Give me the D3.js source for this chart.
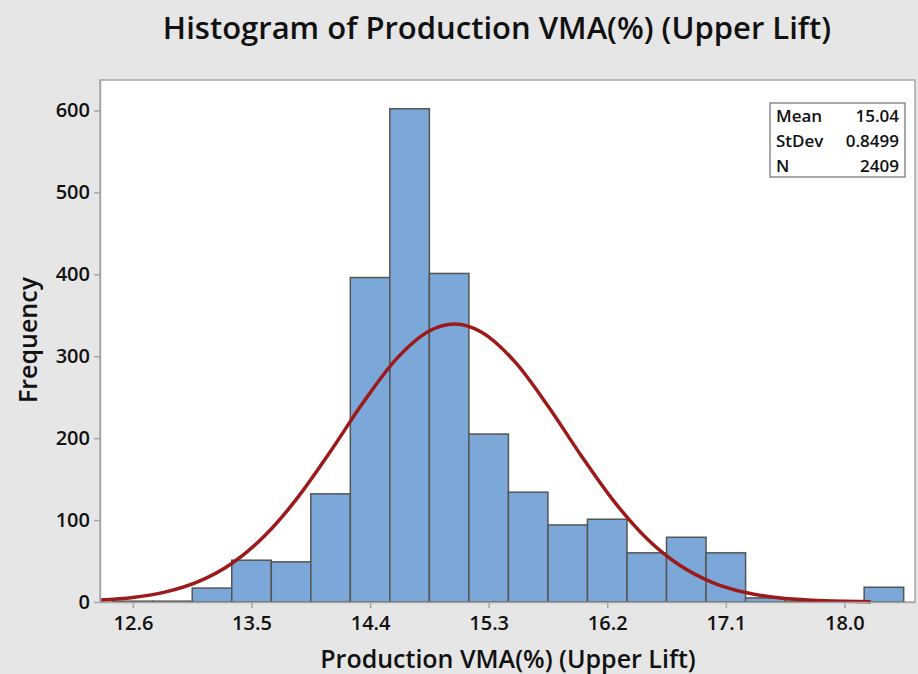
<!DOCTYPE html>
<html>
<head>
<meta charset="utf-8">
<script src="https://cdn.jsdelivr.net/npm/d3@7"></script>
<style>
  body { margin: 0; background: #e6e6e6; }
  text { font-family: "Open Sans", "Noto Sans", sans-serif; fill: #111; }
</style>
</head>
<body>
<script>
// Chart data
var binCenters = [12.6, 12.9, 13.2, 13.5, 13.8, 14.1, 14.4, 14.7, 15.0, 15.3, 15.6, 15.9, 16.2, 16.5, 16.8, 17.1, 17.4, 17.7, 18.3];
var binCounts  = [1, 1, 17, 51, 49, 132, 396, 602, 401, 205, 134, 94, 101, 60, 79, 60, 5, 1, 18];
var binWidth = 0.3;

// fitted normal curve
var curveX = [12.35, 12.6, 12.85, 13.1, 13.35, 13.6, 13.85, 14.1, 14.35, 14.6, 14.85, 15.04, 15.25, 15.5, 15.75, 16.0, 16.25, 16.5, 16.75, 17.0, 17.25, 17.5, 17.75, 18.0, 18.2];
var curveY = [2.3, 5.5, 12.3, 25.1, 47.0, 80.8, 127.3, 184.0, 244.0, 296.7, 330.8, 339.2, 329.0, 293.0, 239.3, 179.2, 123.1, 77.5, 44.8, 23.7, 11.5, 5.1, 2.1, 0.8, 0.3];

var xTicks = [12.6, 13.5, 14.4, 15.3, 16.2, 17.1, 18.0];
var yTicks = [0, 100, 200, 300, 400, 500, 600];

var statLabels = ["Mean", "StDev", "N"];
var statValues = ["15.04", "0.8499", "2409"];

// Chart params
var svgWidth = 918;
var svgHeight = 674;
var plot = { left: 100, top: 80, right: 915, bottom: 602 };

var svg = d3.select("body")
  .append("svg")
  .attr("width", svgWidth)
  .attr("height", svgHeight);

svg.append("rect")
  .attr("width", svgWidth)
  .attr("height", svgHeight)
  .attr("fill", "#e6e6e6");

var xScale = d3.scaleLinear()
  .domain([12.35, 18.536])
  .range([plot.left, plot.right]);

var yScale = d3.scaleLinear()
  .domain([0, 637.1])
  .range([plot.bottom, plot.top]);

// white plot area
svg.append("rect")
  .attr("x", plot.left)
  .attr("y", plot.top)
  .attr("width", plot.right - plot.left)
  .attr("height", plot.bottom - plot.top)
  .attr("fill", "#fff")
  .attr("stroke", "#a6a6a6")
  .attr("stroke-width", 1.5);

// bars
svg.append("g")
  .selectAll("rect")
  .data(binCenters)
  .enter()
  .append("rect")
  .attr("x", d => xScale(d - binWidth / 2))
  .attr("width", d => xScale(d + binWidth / 2) - xScale(d - binWidth / 2))
  .attr("y", (d, i) => yScale(binCounts[i]))
  .attr("height", (d, i) => yScale(0) - yScale(binCounts[i]))
  .attr("fill", "#7ba7d9")
  .attr("stroke", "#555")
  .attr("stroke-width", 1.5);

// normal curve
var line = d3.line()
  .x(d => xScale(d[0]))
  .y(d => yScale(d[1]))
  .curve(d3.curveMonotoneX);

svg.append("path")
  .attr("d", line(curveX.map((x, i) => [x, curveY[i]])))
  .attr("fill", "none")
  .attr("stroke", "#9c1a1a")
  .attr("stroke-width", 3.5);

// axes
var bottomAxis = d3.axisBottom(xScale)
  .tickValues(xTicks)
  .tickFormat(d3.format(".1f"))
  .tickSizeInner(6)
  .tickSizeOuter(0)
  .tickPadding(8);

var leftAxis = d3.axisLeft(yScale)
  .tickValues(yTicks)
  .tickSizeInner(6)
  .tickSizeOuter(0)
  .tickPadding(4);

var xAxisG = svg.append("g")
  .attr("transform", `translate(0, ${plot.bottom})`)
  .call(bottomAxis);

var yAxisG = svg.append("g")
  .attr("transform", `translate(${plot.left}, 0)`)
  .call(leftAxis);

[xAxisG, yAxisG].forEach(function(g) {
  g.select(".domain").attr("stroke", "#a6a6a6").attr("stroke-width", 1.5);
  g.selectAll(".tick line").attr("stroke", "#a6a6a6").attr("stroke-width", 1.5);
  g.selectAll(".tick text")
    .style("font-family", "'Open Sans', sans-serif")
    .style("font-size", "20px")
    .style("font-weight", 600)
    .attr("fill", "#111");
});

// title and axis labels
svg.append("text")
  .attr("x", 497)
  .attr("y", 39)
  .attr("text-anchor", "middle")
  .style("font-size", "31px")
  .style("font-weight", 600)
  .text("Histogram of Production VMA(%) (Upper Lift)");

svg.append("text")
  .attr("x", 508)
  .attr("y", 668)
  .attr("text-anchor", "middle")
  .style("font-size", "25px")
  .style("font-weight", 600)
  .text("Production VMA(%) (Upper Lift)");

svg.append("text")
  .attr("transform", "translate(37, 340) rotate(-90)")
  .attr("text-anchor", "middle")
  .style("font-size", "25px")
  .style("font-weight", 600)
  .text("Frequency");

// stats box
var box = { x: 770, y: 103, w: 135, h: 74 };
svg.append("rect")
  .attr("x", box.x)
  .attr("y", box.y)
  .attr("width", box.w)
  .attr("height", box.h)
  .attr("fill", "#fff")
  .attr("stroke", "#8c8c8c")
  .attr("stroke-width", 1.5);

statLabels.forEach(function(label, i) {
  svg.append("text")
    .attr("x", box.x + 6)
    .attr("y", box.y + 19 + i * 25)
    .style("font-size", "17px")
    .style("font-weight", 600)
    .text(label);
  svg.append("text")
    .attr("x", box.x + box.w - 6)
    .attr("y", box.y + 19 + i * 25)
    .attr("text-anchor", "end")
    .style("font-size", "17px")
    .style("font-weight", 600)
    .text(statValues[i]);
});
</script>
</body>
</html>
